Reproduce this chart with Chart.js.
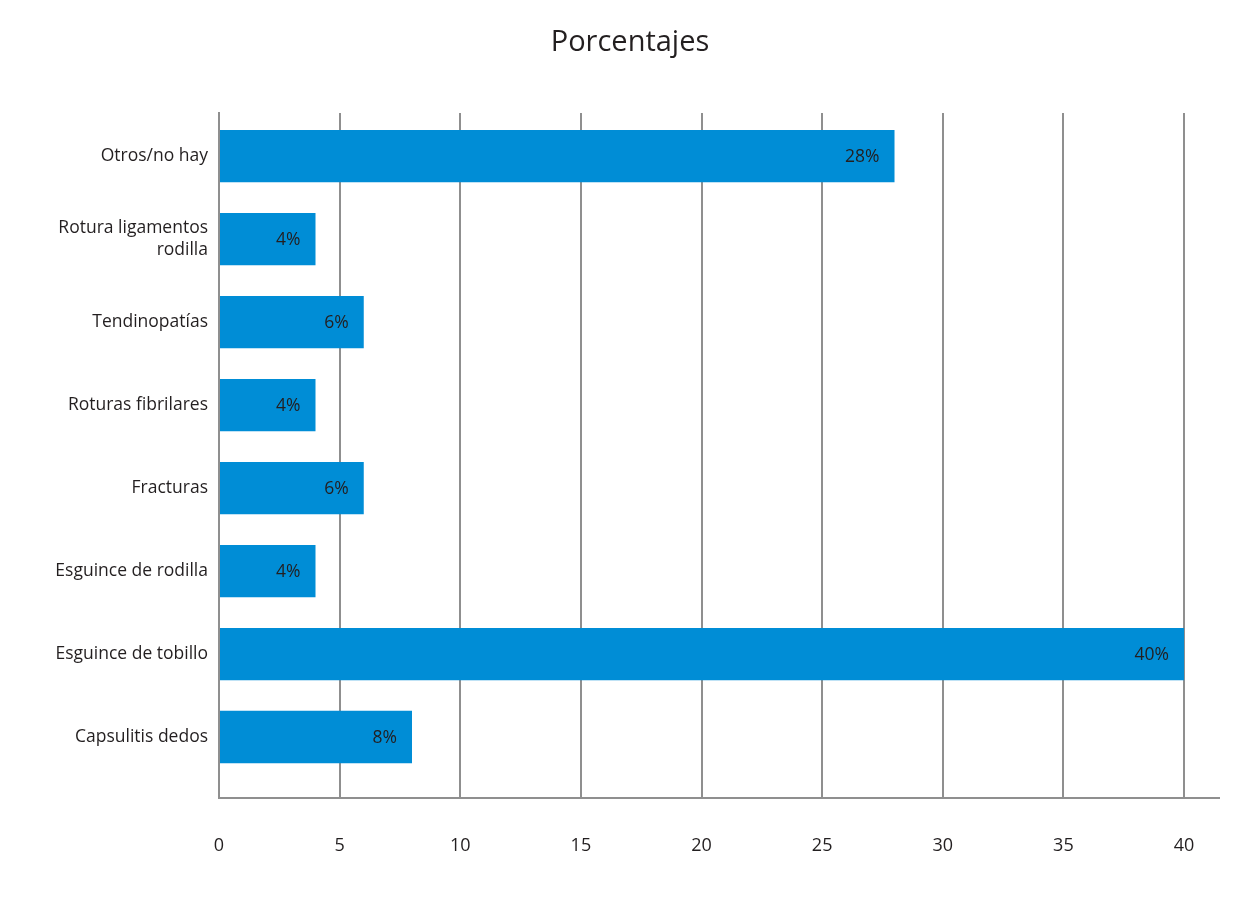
<!DOCTYPE html>
<html><head><meta charset="utf-8">
<script src="https://cdn.jsdelivr.net/npm/chart.js@4"></script>
<style>html,body{margin:0;padding:0;background:#fff}#wrap{width:1260px;height:902px}</style>
</head><body><div id="wrap"><canvas id="c" width="1260" height="902"></canvas></div>
<script>
const categories = [
  'Otros/no hay',
  ['Rotura ligamentos', 'rodilla'],
  'Tendinopatías',
  'Roturas fibrilares',
  'Fracturas',
  'Esguince de rodilla',
  'Esguince de tobillo',
  'Capsulitis dedos'
];
const values = [28, 4, 6, 4, 6, 4, 40, 8];
const xTicks = [0, 5, 10, 15, 20, 25, 30, 35, 40];
const titleText = 'Porcentajes';

const FONT = "'Open Sans', sans-serif";
const TXT = '#231f20';
const GRID = '#8f8f8f';

const valueLabels = {
  id: 'valueLabels',
  afterDatasetsDraw(chart) {
    const ctx = chart.ctx;
    const meta = chart.getDatasetMeta(0);
    ctx.save();
    ctx.font = '17.5px ' + FONT;
    ctx.fillStyle = TXT;
    ctx.textAlign = 'right';
    ctx.textBaseline = 'middle';
    meta.data.forEach((bar, i) => {
      ctx.fillText(values[i] + '%', bar.x - 15, bar.y + 1);
    });
    ctx.restore();
  }
};

new Chart(document.getElementById('c'), {
  type: 'bar',
  data: {
    datasets: [{
      data: values.map((v, i) => ({ x: v, y: i })),
      backgroundColor: '#008dd6',
      borderWidth: 0,
      categoryPercentage: 1,
      barPercentage: 0.63
    }]
  },
  options: {
    indexAxis: 'y',
    responsive: false,
    animation: false,
    layout: { padding: { left: 41, right: 41, top: 0, bottom: 0 } },
    plugins: {
      legend: { display: false },
      tooltip: { enabled: false },
      title: {
        display: true,
        text: titleText,
        color: TXT,
        font: { family: FONT, size: 29, weight: 'normal', lineHeight: 1.2 },
        padding: { top: 25, bottom: 53.2 }
      }
    },
    scales: {
      x: {
        type: 'linear',
        min: 0,
        max: 41.45,
        afterBuildTicks(scale) { scale.ticks = xTicks.map(v => ({ value: v })); },
        afterFit(scale) { scale.height = 104; },
        grid: { display: true, color: GRID, lineWidth: 2, drawTicks: false },
        border: { display: true, color: GRID, width: 2 },
        ticks: { color: TXT, font: { family: FONT, size: 18 }, padding: 37 }
      },
      y: {
        type: 'linear',
        reverse: true,
        offset: false,
        min: -0.52,
        max: 7.735,
        afterBuildTicks(scale) { scale.ticks = categories.map((c, i) => ({ value: i })); },
        afterFit(scale) { scale.width = 178; },
        grid: { display: false, drawTicks: false, offset: false },
        border: { display: true, color: GRID, width: 2 },
        ticks: {
          color: TXT,
          font: { family: FONT, size: 17.5, lineHeight: 1.26 },
          padding: 11,
          autoSkip: false,
          callback: (v) => categories[v]
        }
      }
    }
  },
  plugins: [valueLabels]
});
</script>
</body></html>
